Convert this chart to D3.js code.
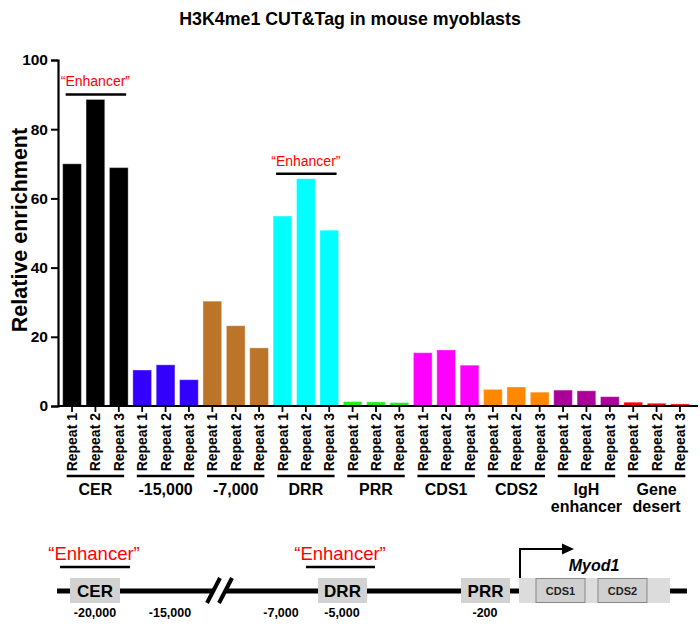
<!DOCTYPE html>
<html><head><meta charset="utf-8">
<script src="https://cdn.jsdelivr.net/npm/d3@7"></script>
<style>body{margin:0;background:#fff}svg{display:block}text{font-family:"Liberation Sans",Arial,sans-serif}</style>
</head><body><svg id="c" width="700" height="630"></svg>
<script>
const title = "H3K4me1 CUT&Tag in mouse myoblasts";
const groups = ["CER","-15,000","-7,000","DRR","PRR","CDS1","CDS2","IgH enhancer","Gene desert"];
const groupLines = [["CER"],["-15,000"],["-7,000"],["DRR"],["PRR"],["CDS1"],["CDS2"],["IgH","enhancer"],["Gene","desert"]];
const repeats = ["Repeat 1","Repeat 2","Repeat 3"];
const values = [
  [70.0, 88.6, 68.9],
  [10.4, 11.9, 7.6],
  [30.3, 23.2, 16.8],
  [54.9, 65.7, 50.8],
  [1.3, 1.2, 1.0],
  [15.4, 16.2, 11.8],
  [4.8, 5.5, 4.0],
  [4.6, 4.4, 2.7],
  [1.1, 0.8, 0.6]
];
const colors = ["#000000","#3300ff","#bb7428","#00ffff","#22ee22","#ff00ff","#ff8800","#aa0099","#ff0000"];
const yTicks = [0,20,40,60,80,100];
const enhancerGroups = ["CER","DRR"];

const svg = d3.select("#c");
const rows = [];
groups.forEach((g,gi)=>repeats.forEach((r,ri)=>rows.push({key:g+"|"+r,g,gi,r,v:values[gi][ri]})));

const x = d3.scaleBand().domain(rows.map(d=>d.key)).range([58,694]).paddingInner(0.2).paddingOuter(0.2);
const y = d3.scaleLinear().domain([0,100]).range([406,60]);

svg.append("text").attr("x",350).attr("y",25).attr("text-anchor","middle")
  .attr("font-size",17.8).attr("font-weight","bold").text(title);

// bars
svg.selectAll("rect.bar").data(rows).join("rect").attr("class","bar")
  .attr("x",d=>x(d.key)).attr("width",x.bandwidth())
  .attr("y",d=>y(d.v)).attr("height",d=>y(0)-y(d.v))
  .attr("fill",d=>colors[d.gi]).attr("stroke","#fff").attr("stroke-opacity",0.35).attr("stroke-width",1);

// y axis
const ya = svg.append("g").attr("transform","translate(58,0)")
  .call(d3.axisLeft(y).tickValues(yTicks).tickSize(7).tickPadding(3));
ya.select(".domain").attr("stroke-width",2.2);
ya.selectAll(".tick line").attr("stroke-width",2);
ya.selectAll("text").attr("font-size",15.5).attr("font-weight","bold").attr("font-family","Liberation Sans, Arial, sans-serif");

svg.append("text").attr("transform","translate(27,230) rotate(-90)").attr("text-anchor","middle")
  .attr("font-size",21.5).attr("font-weight","bold").text("Relative enrichment");

// x axis
const xa = svg.append("g").attr("transform","translate(0,406)")
  .call(d3.axisBottom(x).tickSize(6).tickSizeOuter(0).tickFormat(k=>k.split("|")[1]));
xa.select(".domain").attr("d","M58,0H698").attr("stroke-width",2.2);
xa.selectAll(".tick line").attr("stroke-width",1.8);
xa.selectAll("text").attr("font-size",14).attr("font-weight","bold").attr("font-family","Liberation Sans, Arial, sans-serif")
  .attr("transform","rotate(-90)").attr("text-anchor","end").attr("x",-7).attr("y",0).attr("dy","0.36em");

// group underline and labels
groups.forEach((g,gi)=>{
  const k0 = g+"|"+repeats[0], k2 = g+"|"+repeats[2];
  const x0 = x(k0)+4, x1 = x(k2)+x.bandwidth()-4;
  svg.append("line").attr("x1",x0).attr("x2",x1).attr("y1",476).attr("y2",476).attr("stroke","#000").attr("stroke-width",2.5);
  const cx = (x(k0)+x(k2)+x.bandwidth())/2;
  const t = svg.append("text").attr("x",cx).attr("y",495).attr("text-anchor","middle").attr("font-size",16).attr("font-weight","bold");
  groupLines[gi].forEach((ln,li)=>t.append("tspan").attr("x",cx).attr("dy",li?17:0).text(ln));
  if(enhancerGroups.includes(g)){
    const top = y(d3.max(values[gi]));
    const ly = top-5;
    svg.append("line").attr("x1",x(k0)+3).attr("x2",x(k2)+x.bandwidth()-2).attr("y1",ly).attr("y2",ly).attr("stroke","#000").attr("stroke-width",2.5);
    svg.append("text").attr("x",cx).attr("y",ly-8).attr("text-anchor","middle").attr("font-size",14).attr("fill","#ff0000").text("\u201CEnhancer\u201D");
  }
});

// bottom diagram
const dg = svg.append("g");
const lineY = 591;
const segs = [[57,70],[120,214],[226,318],[367,461],[510,520],[670,687]];
segs.forEach(s=>dg.append("line").attr("x1",s[0]).attr("x2",s[1]).attr("y1",lineY).attr("y2",lineY).attr("stroke","#000").attr("stroke-width",5));
// break slashes
[[207,603,220,578],[219,603,232,578]].forEach(s=>dg.append("line").attr("x1",s[0]).attr("y1",s[1]).attr("x2",s[2]).attr("y2",s[3]).attr("stroke","#000").attr("stroke-width",4));
// boxes
const boxes = [["CER",70,120],["DRR",318,367],["PRR",461,510]];
boxes.forEach(b=>{
  dg.append("rect").attr("x",b[1]).attr("y",578).attr("width",b[2]-b[1]).attr("height",25).attr("fill","#d2d2d2");
  dg.append("text").attr("x",(b[1]+b[2])/2).attr("y",597).attr("text-anchor","middle").attr("font-size",17).attr("font-weight","bold").text(b[0]);
});
dg.append("rect").attr("x",519).attr("y",578).attr("width",151).attr("height",25).attr("fill","#dcdcdc");
[["CDS1",536,585],["CDS2",598,647]].forEach(b=>{
  dg.append("rect").attr("x",b[1]).attr("y",578.5).attr("width",b[2]-b[1]).attr("height",24).attr("fill","#d0d0d0").attr("stroke","#888").attr("stroke-width",1);
  dg.append("text").attr("x",(b[1]+b[2])/2).attr("y",594.5).attr("text-anchor","middle").attr("font-size",11).attr("font-weight","bold").attr("fill","#222").text(b[0]);
});
// positions
[["-20,000",95],["-15,000",170],["-7,000",281],["-5,000",342],["-200",485]].forEach(p=>
  dg.append("text").attr("x",p[1]).attr("y",617).attr("text-anchor","middle").attr("font-size",12.5).attr("font-weight","bold").text(p[0]));
// enhancer labels
[[94,60,130],[340,306,375]].forEach(e=>{
  dg.append("line").attr("x1",e[1]).attr("x2",e[2]).attr("y1",567).attr("y2",567).attr("stroke","#000").attr("stroke-width",2.5);
  dg.append("text").attr("x",e[0]).attr("y",560).attr("text-anchor","middle").attr("font-size",18.5).attr("fill","#ff0000").text("\u201CEnhancer\u201D");
});
// TSS arrow
dg.append("path").attr("d","M520,578V549H564").attr("fill","none").attr("stroke","#000").attr("stroke-width",2);
dg.append("path").attr("d","M574,549L562,543.5V554.5Z").attr("fill","#000");
dg.append("text").attr("x",594).attr("y",571).attr("text-anchor","middle").attr("font-size",16).attr("font-weight","bold").attr("font-style","italic").text("Myod1");
</script></body></html>
